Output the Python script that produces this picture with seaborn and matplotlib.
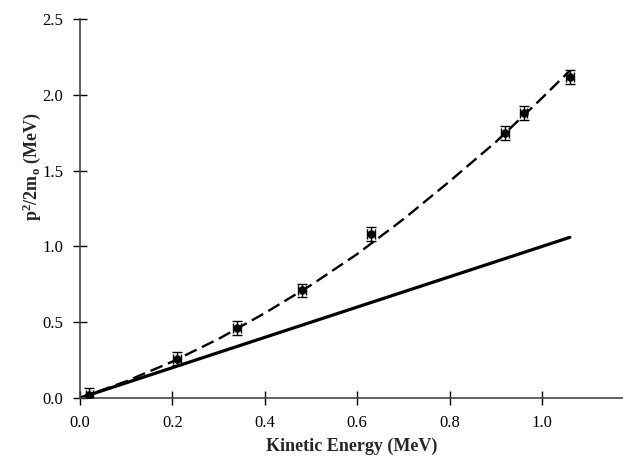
import matplotlib
matplotlib.use("Agg")
import matplotlib.pyplot as plt
import seaborn as sns

# measured points
ke = [0.02, 0.21, 0.34, 0.48, 0.63, 0.92, 0.96, 1.06]
p2 = [0.02, 0.26, 0.46, 0.71, 1.08, 1.75, 1.88, 2.12]
ke_err = [0.008, 0.008, 0.008, 0.008, 0.008, 0.008, 0.008, 0.008]
p2_err = [0.045, 0.045, 0.045, 0.045, 0.045, 0.045, 0.045, 0.045]

# dashed (relativistic) curve
rel_x = [0.0, 0.1, 0.2, 0.3, 0.4, 0.5, 0.6, 0.7, 0.8, 0.9, 1.0, 1.06]
rel_y = [0.0, 0.11, 0.24, 0.39, 0.56, 0.745, 0.95, 1.18, 1.43, 1.69, 1.98, 2.16]

# solid (classical) line
cl_x = [0.0, 1.06]
cl_y = [0.0, 1.06]

sns.set_style("ticks")
plt.rcParams['font.family'] = ['Liberation Serif', 'DejaVu Serif']
plt.rcParams['mathtext.fontset'] = 'custom'
plt.rcParams['mathtext.bf'] = 'Liberation Serif:bold'
plt.rcParams['mathtext.rm'] = 'Liberation Serif:bold'
plt.rcParams['mathtext.default'] = 'bf'

fig = plt.figure(figsize=(6.23, 4.66), dpi=100)
ax = fig.add_axes([0.1284, 0.146, 0.8716, 0.813])

sns.lineplot(x=rel_x, y=rel_y, ax=ax, color='black', linewidth=1.7,
             linestyle=(0, (5.5, 2.5)))
sns.lineplot(x=cl_x, y=cl_y, ax=ax, color='black', linewidth=2.3)
ax.errorbar(ke, p2, xerr=ke_err, yerr=p2_err, fmt='none', ecolor='black',
            elinewidth=1, capsize=3.5, capthick=1)
sns.scatterplot(x=ke, y=p2, ax=ax, color='black', marker='o', s=32,
                edgecolor='black', zorder=5)

ax.set_xlim(0, 1.175)
ax.set_ylim(0, 2.5)
ax.set_xticks([0.0, 0.2, 0.4, 0.6, 0.8, 1.0])
ax.set_yticks([0.0, 0.5, 1.0, 1.5, 2.0, 2.5])
ax.set_xticklabels(['0.0', '0.2', '0.4', '0.6', '0.8', '1.0'])
ax.set_yticklabels(['0.0', '0.5', '1.0', '1.5', '2.0', '2.5'])
ax.tick_params(direction='inout', length=10, width=1, labelsize=12,
               colors='black', pad=7)
for side in ['top', 'right']:
    ax.spines[side].set_visible(False)
for side in ['left', 'bottom']:
    ax.spines[side].set_color('#444444')
    ax.spines[side].set_linewidth(1.2)

ax.set_xlabel("Kinetic Energy (MeV)", fontsize=13, fontweight='bold')
ax.set_ylabel("p$^2$/2m$_o$ (MeV)", fontsize=13, fontweight='bold')
ax.xaxis.set_label_coords(0.50, -0.105)
ax.yaxis.set_label_coords(-0.068, 0.61)

fig.savefig("out.png", dpi=100)
